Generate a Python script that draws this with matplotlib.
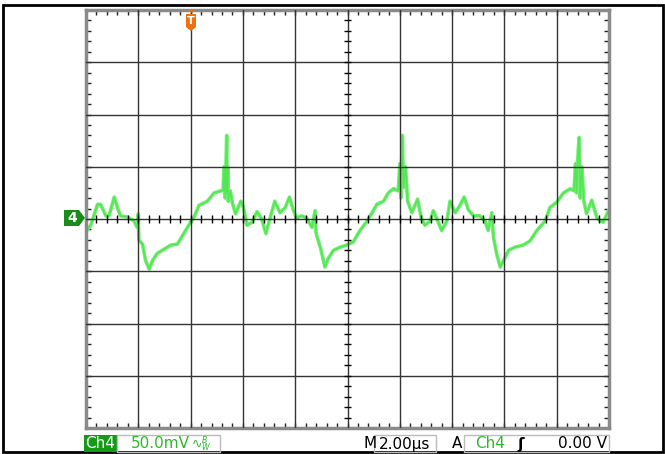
import matplotlib.pyplot as plt
import numpy as np
from matplotlib.patches import Rectangle, Polygon

W, H = 665, 454

# trace: time in us, voltage in mV (2 us/div, 50 mV/div)
time_us = [0.06, 0.18, 0.44, 0.56, 0.76, 0.88, 1.08, 1.2, 1.32, 1.58, 1.84, 1.96,
           2.0, 2.02, 2.16, 2.28, 2.42, 2.54, 2.72, 2.98, 3.24, 3.5, 3.74, 4.0,
           4.12, 4.32, 4.64, 4.9, 5.16, 5.24, 5.28, 5.32, 5.36, 5.38, 5.40, 5.42,
           5.44, 5.52, 5.6, 5.72, 5.92, 6.02, 6.16, 6.36, 6.54,
           6.72, 6.88, 7.04, 7.22, 7.42, 7.62, 7.78, 7.92, 8.06, 8.24, 8.44, 8.64,
           8.76, 8.8, 8.96, 9.14, 9.26, 9.46, 9.72, 9.96, 10.22, 10.48, 10.72,
           10.92, 11.12, 11.38, 11.56, 11.76, 11.94, 12.0, 12.04, 12.08, 12.10,
           12.14, 12.22, 12.30, 12.46, 12.68, 12.82, 12.96, 13.16, 13.28,
           13.42, 13.6, 13.8, 13.92, 14.12, 14.3, 14.46, 14.62, 14.82, 15.06,
           15.26, 15.38, 15.52, 15.58, 15.70, 15.84, 15.96, 16.16, 16.4, 16.72,
           16.98, 17.24, 17.56, 17.74, 18.0, 18.26, 18.52, 18.66, 18.72, 18.76,
           18.82, 18.86, 18.90, 18.96, 19.04, 19.14, 19.34, 19.54, 19.66, 19.78,
           19.98]
volt_mv = [-10, -6, 14, 14, 3, 3, 21, 11, 3, 2, -2, -8,
           5, -20, -24, -40, -48, -40, -33, -29, -25, -24, -14, -3,
           1, 13, 17, 25, 27, 27, 50, 20, 60, 80, 25, 50,
           17, 27, 15, 5, 17, 11, -6, -3, 7,
           0, -14, 1, 17, 6, 11, 21, 9, 1, 3, 1, -8,
           8, -14, -27, -46, -38, -30, -27, -25, -22, -11, -3,
           5, 14, 17, 25, 29, 27, 53, 20, 65, 80,
           30, 50, 17, 6, 19, 1, -6, -2, 8,
           0, -11, -2, 17, 6, 13, 21, 9, 3, 3,
           -2, -11, 6, -17, -33, -46, -40, -30, -27, -25,
           -21, -11, -2, 11, 16, 25, 29, 27, 53, 25,
           65, 78, 20, 50, 17, 5, 18, 1, -2, -3,
           8]

fig = plt.figure(figsize=(W / 100, H / 100), dpi=100)


def fx(x):
    return x / W


def fy(y):
    return 1 - y / H


ax = fig.add_axes([fx(86), fy(428), 523 / W, 418 / H])
ax.set_xlim(0, 20)
ax.set_ylim(-200, 200)

# trace
ax.plot(time_us, volt_mv, color='#70f070', lw=2.6, zorder=2, solid_joinstyle='round')
ax.plot(time_us, volt_mv, color='#55e455', lw=1.0, zorder=2)

# graticule
for i in range(1, 10):
    ax.axvline(i * 2, color='#333333', lw=1.0, zorder=3)
for j in range(-3, 4):
    ax.axhline(j * 50, color='#333333', lw=1.0, zorder=3)

xt = np.arange(0.4, 20, 0.4)
yt = np.arange(-190, 200, 10)
ax.vlines(xt, -3.5, 3.5, color='black', lw=1.0, zorder=3)
ax.hlines(yt, 10 - 0.15, 10 + 0.15, color='black', lw=1.0, zorder=3)

ax.set_xticks([])
ax.set_yticks([])
ax.set_xticks(xt, minor=True)
ax.set_yticks(yt, minor=True)
ax.tick_params(which='minor', direction='in', length=3.5, width=1.0, color='#222222',
               top=True, right=True, labelbottom=False, labelleft=False)
for s in ax.spines.values():
    s.set_color('#8a8a8a')
    s.set_linewidth(2.5)

# outer frame
fig.add_artist(Rectangle((fx(3), fy(452)), 660 / W, 447 / H, transform=fig.transFigure,
                         fill=False, ec='black', lw=2.0))

# channel marker
fig.add_artist(Polygon([(fx(64), fy(210)), (fx(79), fy(210)), (fx(85), fy(218)),
                        (fx(79), fy(226)), (fx(64), fy(226))], closed=True,
                       transform=fig.transFigure, fc='#1b8c1b', ec='none'))
fig.text(fx(72), fy(218), '4', color='white', fontsize=10, fontweight='bold',
         ha='center', va='center')

# trigger marker
fig.add_artist(Polygon([(fx(188), fy(9)), (fx(194), fy(9)), (fx(191), fy(13))],
                       closed=True, transform=fig.transFigure, fc='#f07010', ec='none'))
fig.add_artist(Polygon([(fx(186), fy(14)), (fx(196), fy(14)), (fx(196), fy(27)),
                        (fx(191), fy(31)), (fx(186), fy(27))], closed=True,
                       transform=fig.transFigure, fc='#f07010', ec='none', zorder=5))
fig.text(fx(191), fy(21), 'T', color='white', fontsize=8, fontweight='bold',
         ha='center', va='center', zorder=6)

# status bar
fs = 11
ty = fy(444)
fig.add_artist(Rectangle((fx(84), fy(452)), 33 / W, 17 / H, transform=fig.transFigure,
                         fc='#159a15', ec='none'))
fig.text(fx(100.5), ty, 'Ch4', color='white', fontsize=fs, ha='center', va='center')
fig.add_artist(Rectangle((fx(117), fy(452)), 103 / W, 17 / H, transform=fig.transFigure,
                         fill=False, ec='#bbbbbb', lw=1.0))
fig.text(fx(131), ty, '50.0mV', color='#2db82d', fontsize=fs, ha='left', va='center')
fig.text(fx(192), ty - 0.002, '\u223f', color='#2db82d', fontsize=9, ha='left', va='center')
fig.text(fx(201), ty, '$^{B}_{W}$', color='#2db82d', fontsize=8, ha='left', va='center')

fig.text(fx(370), ty, 'M', color='black', fontsize=fs, ha='center', va='center')
fig.add_artist(Rectangle((fx(374), fy(452)), 62 / W, 17 / H, transform=fig.transFigure,
                         fill=False, ec='#bbbbbb', lw=1.0))
fig.text(fx(405), ty, '2.00\u00b5s', color='black', fontsize=fs, ha='center', va='center')

fig.text(fx(457), ty, 'A', color='black', fontsize=fs, ha='center', va='center')
fig.add_artist(Rectangle((fx(464), fy(452)), 145 / W, 17 / H, transform=fig.transFigure,
                         fill=False, ec='#bbbbbb', lw=1.0))
fig.text(fx(490), ty, 'Ch4', color='#2db82d', fontsize=fs, ha='center', va='center')
fig.text(fx(521), ty, '\u0283', color='black', fontsize=fs, fontweight='bold',
         ha='center', va='center')
fig.text(fx(607), ty, '0.00 V', color='black', fontsize=fs, ha='right', va='center')

fig.savefig('out.png', dpi=100)
